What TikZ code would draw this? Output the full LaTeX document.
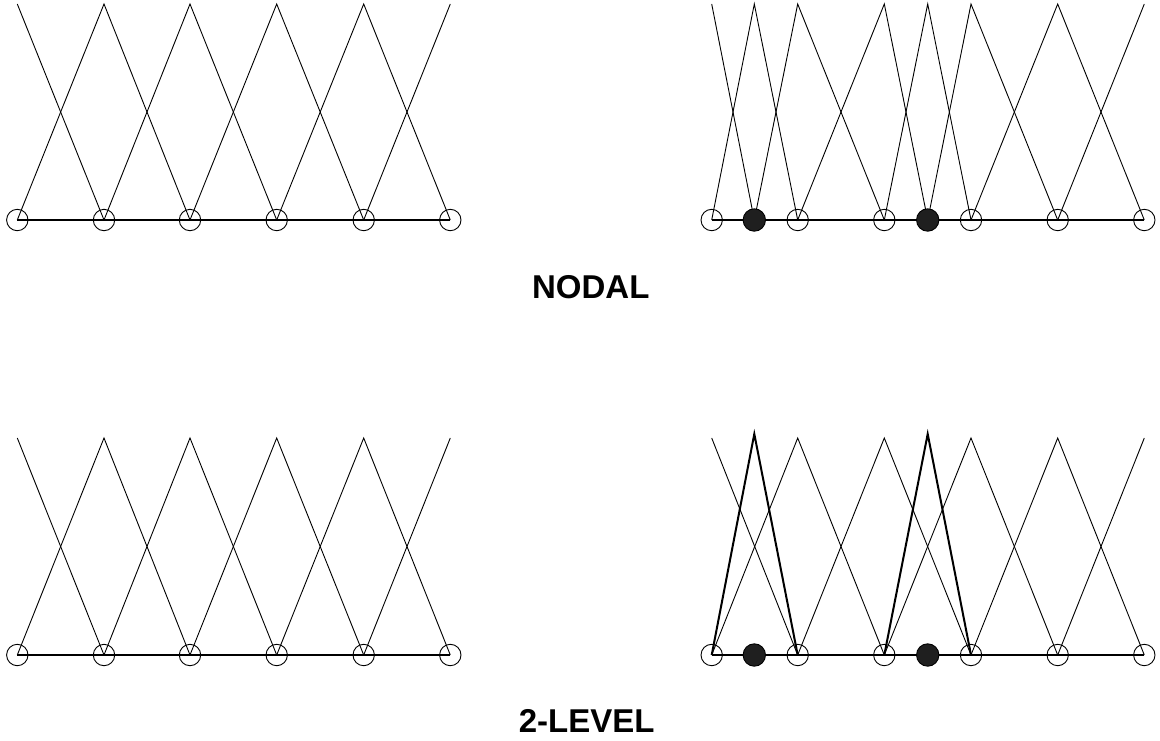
\documentclass[tikz,border=0pt]{standalone}
\usepackage{fontspec}
\setmainfont{Liberation Sans}
\begin{document}
\begin{tikzpicture}[x=1pt,y=-1pt,
  hat/.style={line width=0.9pt},
  boldhat/.style={line width=2pt},
  baseline/.style={line width=2pt},
  opennode/.style={circle,draw,line width=0.9pt,inner sep=0pt,minimum size=21.4pt},
  fillednode/.style={circle,draw,fill=black!88,line width=0.9pt,inner sep=0pt,minimum size=22.4pt},
  label/.style={font=\bfseries\fontsize{33}{40}\selectfont,inner sep=0pt}
]
\useasboundingbox (0,0) rectangle (1160,740);

% ---------- coordinates ----------
\foreach \x [count=\i from 0] in {17.3,104,190,276.7,363.7,450.3} {
  \coordinate (tl\i) at (\x,220);
  \coordinate (tlp\i) at (\x,4);
  \coordinate (bl\i) at (\x,655);
  \coordinate (blp\i) at (\x,438);
}
\foreach \x [count=\i from 0] in {711.7,754.3,797.7,884.3,927.7,971,1057.7,1144.3} {
  \coordinate (tr\i) at (\x,220);
  \coordinate (trp\i) at (\x,4);
  \coordinate (br\i) at (\x,655);
  \coordinate (brp\i) at (\x,438);
  \coordinate (brq\i) at (\x,434);
}

% ---------- top-left: nodal, uniform ----------
\draw[baseline] (tl0) -- (tl5);
\draw[hat] (tlp0) -- (tl1);
\foreach \a/\b/\c in {0/1/2,1/2/3,2/3/4,3/4/5}
  \draw[hat] (tl\a) -- (tlp\b) -- (tl\c);
\draw[hat] (tl4) -- (tlp5);

% ---------- bottom-left: 2-level, uniform ----------
\draw[baseline] (bl0) -- (bl5);
\draw[hat] (blp0) -- (bl1);
\foreach \a/\b/\c in {0/1/2,1/2/3,2/3/4,3/4/5}
  \draw[hat] (bl\a) -- (blp\b) -- (bl\c);
\draw[hat] (bl4) -- (blp5);

% ---------- top-right: nodal, refined ----------
\draw[baseline] (tr0) -- (tr7);
\draw[hat] (trp0) -- (tr1);
\foreach \a/\b/\c in {0/1/2,1/2/3,2/3/4,3/4/5,4/5/6,5/6/7}
  \draw[hat] (tr\a) -- (trp\b) -- (tr\c);
\draw[hat] (tr6) -- (trp7);

% ---------- bottom-right: 2-level, refined ----------
\draw[baseline] (br0) -- (br7);
\draw[hat] (brp0) -- (br2);
\foreach \a/\b/\c in {0/2/3,2/3/5,3/5/6,5/6/7}
  \draw[hat] (br\a) -- (brp\b) -- (br\c);
\draw[hat] (br6) -- (brp7);
\draw[boldhat] (br0) -- (brq1) -- (br2);
\draw[boldhat] (br3) -- (brq4) -- (br5);

% ---------- mesh nodes ----------
\foreach \i in {0,...,5} {
  \node[opennode] (tlc\i) at (tl\i) {};
  \node[opennode] (blc\i) at (bl\i) {};
}
\foreach \i in {0,2,3,5,6,7} {
  \node[opennode] (trc\i) at (tr\i) {};
  \node[opennode] (brc\i) at (br\i) {};
}
\foreach \i in {1,4} {
  \node[fillednode] (trc\i) at (tr\i) {};
  \node[fillednode] (brc\i) at (br\i) {};
}

% ---------- labels ----------
\node[label] (nodal) at (590.8,286.7) {NODAL};
\node[label] (twolevel) at (586.6,720.5) {2-LEVEL};
\end{tikzpicture}
\end{document}
